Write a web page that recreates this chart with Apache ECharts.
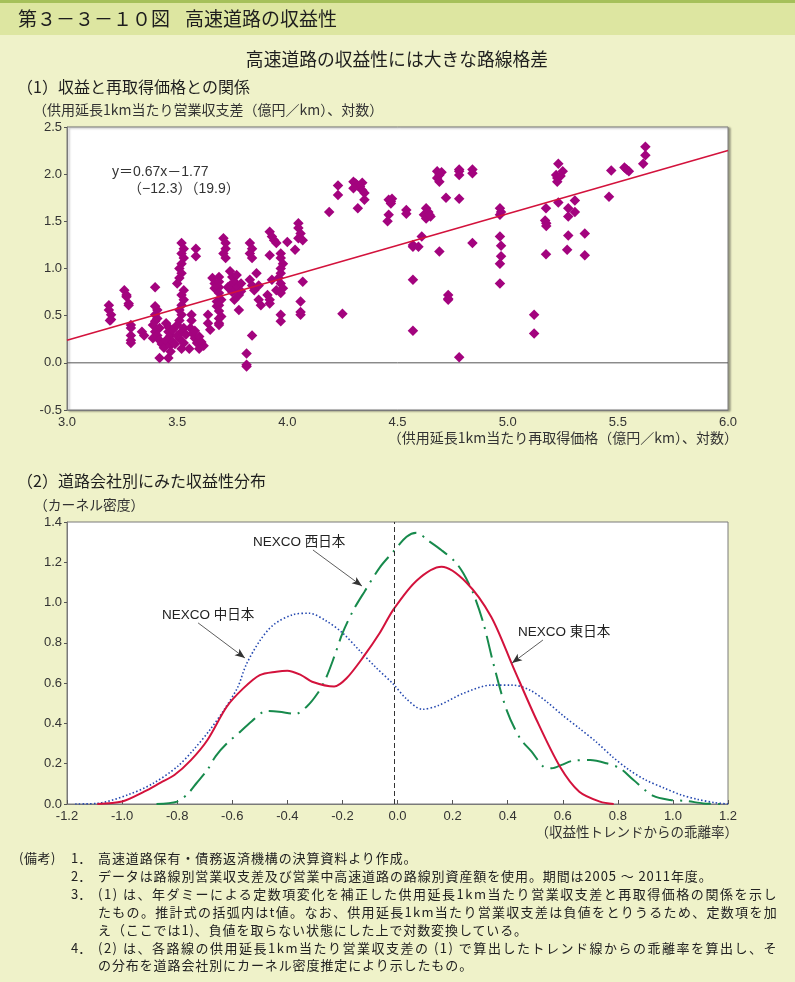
<!DOCTYPE html>
<html><head><meta charset="utf-8">
<script src="https://cdn.jsdelivr.net/npm/echarts@6/dist/echarts.min.js"></script>
<style>
html,body{margin:0;padding:0;background:#eff2c9}
#wrap{position:relative;width:795px;height:982px}
#c{width:795px;height:982px}
.note{position:absolute;white-space:nowrap;font-family:"Noto Sans CJK JP",sans-serif;font-size:13px;color:#222;line-height:16px;height:16px}
</style>
</head><body><div id="wrap"><div id="c"></div><div id="notes"></div></div>
<script>
// ---- (1) scatter: revenue vs reacquisition price (log) ----
const scatterX = [
3.19,3.19,3.20,3.20,3.195,
3.26,3.27,3.27,3.28,3.28,
3.29,3.29,3.29,3.29,3.29,
3.34,3.35,
3.40,3.40,3.41,3.40,3.41,3.40,3.39,3.42,3.40,3.41,3.39,3.42,3.43,3.42,3.44,
3.45,3.46,3.46,3.47,3.45,3.47,3.47,3.46,3.48,3.48,
3.52,3.53,3.52,3.53,3.52,3.51,3.52,3.51,3.50,3.53,3.52,3.53,3.52,3.51,3.52,3.51,3.50,3.53,3.52,3.51,3.53,3.52,3.50,3.49,3.54,
3.585,3.585,3.565,3.565,3.56,3.57,3.58,3.59,3.60,3.555,3.58,3.60,3.61,3.62,
3.64,3.64,3.66,3.67,3.67,3.68,3.68,3.69,3.65,3.69,3.69,3.69,3.69,3.70,3.69,3.69,3.70,3.69,3.69,
3.71,3.72,3.72,3.71,3.72,3.74,3.75,3.76,3.74,3.77,3.75,3.78,3.76,3.79,3.78,3.73,3.77,3.79,
3.83,3.84,3.83,3.84,3.83,3.84,3.85,3.86,3.87,3.87,3.88,3.84,3.815,3.815,3.815,
3.92,3.93,3.94,3.95,3.92,3.91,3.92,3.92,3.93,3.97,3.97,3.98,3.97,3.97,3.96,3.97,3.98,3.97,3.97,3.97,3.95,
4.00,4.035,4.05,4.05,4.06,4.05,4.07,4.07,4.06,4.06,4.06,
4.19,4.23,4.23,4.25,4.30,4.31,4.32,4.33,4.30,4.34,4.35,4.35,4.32,4.34,
4.46,4.47,4.47,4.46,4.455,4.475,
4.54,4.54,4.57,4.57,4.57,4.57,4.595,4.61,4.62,4.63,4.64,4.65,4.63,4.645,
4.68,4.69,4.68,4.69,4.70,4.69,4.72,4.73,4.73,4.73,
4.78,4.78,4.78,4.78,4.78,4.84,4.84,4.84,
4.965,4.97,4.965,4.965,4.97,4.97,4.965,4.965,
5.12,5.12,5.174,5.17,5.175,5.175,5.174,
5.23,5.25,5.22,5.225,5.225,5.23,5.24,
5.275,5.275,5.275,5.27,5.305,5.305,5.35,5.35,
5.46,5.47,5.53,5.54,5.55,5.615,5.625,5.625];
const scatterY = [
0.61,0.56,0.51,0.46,0.45,
0.77,0.72,0.70,0.63,0.61,
0.40,0.37,0.29,0.24,0.21,
0.33,0.29,
0.80,0.60,0.56,0.51,0.47,0.44,0.40,0.37,0.33,0.29,0.26,0.24,0.20,0.05,0.16,
0.42,0.38,0.33,0.29,0.24,0.19,0.12,0.05,0.22,0.35,
1.27,1.21,1.16,1.11,1.05,1.00,0.95,0.90,0.84,0.77,0.72,0.67,0.61,0.56,0.51,0.45,0.40,0.37,0.33,0.26,0.21,0.15,0.29,0.20,0.30,
1.21,1.13,0.51,0.45,0.37,0.31,0.26,0.21,0.15,0.15,0.34,0.28,0.22,0.18,
0.51,0.42,0.90,0.84,0.79,0.65,0.60,0.40,0.35,0.91,0.86,0.80,0.74,0.67,0.61,0.55,0.49,0.47,0.42,
1.32,1.27,1.21,1.16,1.11,0.97,0.91,0.86,0.82,0.79,0.75,0.72,0.67,0.84,0.56,0.80,0.93,0.76,
1.27,1.21,1.16,1.11,0.88,0.82,0.77,0.95,0.82,0.67,0.61,0.29,0.10,-0.02,-0.04,
1.39,1.34,1.30,1.27,1.14,0.72,0.67,0.63,0.88,1.16,1.11,1.05,1.00,0.95,0.90,0.84,0.79,0.74,0.51,0.44,0.77,
1.28,1.20,1.48,1.43,1.37,1.32,1.30,0.86,0.65,0.54,0.51,
1.60,1.88,1.78,0.52,1.92,1.90,1.88,1.87,1.85,1.83,1.80,1.73,1.64,1.91,
1.73,1.71,1.69,1.57,1.50,1.74,
1.62,1.58,1.25,1.23,0.88,0.34,1.23,1.34,1.57,1.64,1.60,1.55,1.53,1.57,
2.03,1.99,1.96,1.92,2.02,1.18,1.75,0.72,0.68,0.67,
2.05,2.03,1.99,1.74,0.06,2.05,2.01,1.27,
1.64,1.60,1.57,1.34,1.24,1.13,1.05,0.84,
0.51,0.31,1.64,1.51,1.48,1.45,1.15,
2.11,2.03,1.99,1.96,1.92,1.70,1.98,
1.64,1.55,1.35,1.20,1.72,1.60,1.37,1.14,
1.76,2.04,2.07,2.05,2.03,2.11,2.20,2.29];
const trendCoef = [0.67, -1.77];          // y = a x + b
const trendTValues = ['−12.3', '19.9'];
const xTicks1 = [3.0, 6.0, 0.5];          // min, max, interval
const yTicks1 = [-0.5, 2.5, 0.5];

// ---- (2) kernel density by company ----
const centralX = [-1.17,-1.09,-0.98,-0.89,-0.80,-0.74,-0.68,-0.63,-0.58,-0.55,-0.50,-0.45,-0.38,-0.32,-0.26,-0.20,-0.14,-0.08,-0.015,0.03,0.09,0.15,0.24,0.34,0.42,0.48,0.54,0.60,0.66,0.72,0.78,0.84,0.90,0.97,1.03,1.09,1.15,1.20];
const centralY = [0,0.003,0.045,0.10,0.185,0.27,0.37,0.467,0.58,0.69,0.81,0.89,0.94,0.947,0.91,0.85,0.765,0.68,0.595,0.525,0.47,0.49,0.55,0.59,0.59,0.566,0.51,0.44,0.376,0.31,0.235,0.17,0.12,0.078,0.045,0.023,0.007,0];
const eastX = [-1.09,-1.0,-0.92,-0.86,-0.81,-0.75,-0.69,-0.62,-0.56,-0.50,-0.44,-0.40,-0.35,-0.31,-0.23,-0.185,-0.124,-0.064,-0.015,0.07,0.16,0.25,0.34,0.42,0.505,0.59,0.66,0.735,0.785];
const eastY = [0,0.012,0.061,0.106,0.144,0.218,0.318,0.483,0.574,0.64,0.657,0.662,0.64,0.607,0.583,0.624,0.73,0.85,0.965,1.11,1.178,1.10,0.93,0.68,0.417,0.185,0.061,0.012,0];
const westX = [-0.875,-0.80,-0.76,-0.73,-0.69,-0.66,-0.62,-0.57,-0.53,-0.475,-0.43,-0.37,-0.33,-0.29,-0.26,-0.23,-0.20,-0.16,-0.12,-0.064,-0.015,0.033,0.069,0.112,0.16,0.209,0.239,0.275,0.312,0.348,0.396,0.445,0.487,0.53,0.56,0.596,0.638,0.699,0.759,0.808,0.856,0.929,0.99,1.05,1.11,1.18];
const westY = [0,0.012,0.053,0.103,0.17,0.238,0.30,0.36,0.41,0.462,0.458,0.447,0.483,0.55,0.624,0.73,0.847,0.963,1.054,1.175,1.253,1.327,1.347,1.307,1.26,1.203,1.145,1.046,0.897,0.698,0.467,0.326,0.26,0.185,0.177,0.194,0.215,0.218,0.202,0.177,0.12,0.04,0.02,0.015,0.003,0];
const meanLineX = [-0.015];
const xTicks2 = [-1.2, 1.2, 0.2];
const yTicks2 = [0, 1.4, 0.2];
const companyNames = ['NEXCO東日本', 'NEXCO中日本', 'NEXCO西日本'];

const notes = [
  ['(備考)', '1．', '高速道路保有・債務返済機構の決算資料より作成。'],
  ['', '2．', 'データは路線別営業収支差及び営業中高速道路の路線別資産額を使用。期間は2005 ～ 2011年度。'],
  ['', '3．', '(1) は、年ダミーによる定数項変化を補正した供用延長1km当たり営業収支差と再取得価格の関係を示し'],
  ['', '', 'たもの。推計式の括弧内はt値。なお、供用延長1km当たり営業収支差は負値をとりうるため、定数項を加'],
  ['', '', 'え（ここでは1)、負値を取らない状態にした上で対数変換している。'],
  ['', '4．', '(2) は、各路線の供用延長1km当たり営業収支差の (1) で算出したトレンド線からの乖離率を算出し、そ'],
  ['', '', 'の分布を道路会社別にカーネル密度推定により示したもの。']
];

// notes as HTML text (letter-spaced like the original)
(function () {
  const box = document.getElementById('notes');
  const mk = (txt, x, y, ls) => {
    const d = document.createElement('div');
    d.className = 'note';
    d.textContent = txt;
    d.style.left = x + 'px';
    d.style.top = (y - 8) + 'px';
    if (ls != null) d.style.letterSpacing = ls + 'px';
    box.appendChild(d);
    return d;
  };
  notes.forEach((n, i) => {
    const y = 858 + i * 17.9;
    if (n[0]) mk(n[0], 19, y, 0.5);
    if (n[1]) mk(n[1], 71, y, 0);
    const d = mk(n[2], 98, y, 0);
    if (i === 2 || i === 3 || i === 5) {
      const w = d.getBoundingClientRect().width;
      const nch = [...n[2]].length;
      d.style.letterSpacing = ((680 - w) / nch) + 'px';
    } else {
      d.style.letterSpacing = '0.9px';
    }
  });
})();

const FONT = '"Liberation Sans", "Noto Sans CJK JP", sans-serif';
const JP = '"Noto Sans CJK JP", sans-serif';
const chart = echarts.init(document.getElementById('c'), null, {renderer: 'canvas'});

const zip = (xs, ys) => xs.map((x, i) => [x, ys[i]]);
const trendData = [xTicks1[0], xTicks1[1]].map(x => [x, trendCoef[0] * x + trendCoef[1]]);
const spaced = s => s.replace('NEXCO', 'NEXCO ');

const graphics = [
  {type: 'rect', shape: {x: 0, y: 0, width: 795, height: 35}, style: {fill: '#dde6a1'}, z: -10, silent: true},
  {type: 'rect', shape: {x: 0, y: 0, width: 795, height: 3}, style: {fill: '#a5c05a'}, z: -9, silent: true},
  {type: 'text', x: 18, y: 19, style: {text: '第３－３－１０図', font: '19px ' + JP, fill: '#1e1e1e', textVerticalAlign: 'middle'}},
  {type: 'text', x: 185, y: 19, style: {text: '高速道路の収益性', font: '19px ' + JP, fill: '#1e1e1e', textVerticalAlign: 'middle'}},
  {type: 'text', x: 397, y: 59, style: {text: '高速道路の収益性には大きな路線格差', font: '17.8px ' + JP, fill: '#1e1e1e', textAlign: 'center', textVerticalAlign: 'middle'}},
  {type: 'text', x: 17, y: 87, style: {text: '（1）収益と再取得価格との関係', font: '16px ' + JP, fill: '#1e1e1e', textVerticalAlign: 'middle'}},
  {type: 'text', x: 33, y: 110, style: {text: '（供用延長1km当たり営業収支差（億円／km）、対数）', font: '14px ' + JP, fill: '#333', textVerticalAlign: 'middle'}},
  {type: 'text', x: 738, y: 438, style: {text: '（供用延長1km当たり再取得価格（億円／km）、対数）', font: '14px ' + JP, fill: '#333', textAlign: 'right', textVerticalAlign: 'middle'}},
  {type: 'text', x: 112, y: 172, style: {text: 'y＝' + trendCoef[0] + 'x－' + Math.abs(trendCoef[1]), font: '14px ' + FONT, fill: '#333', textVerticalAlign: 'middle'}},
  {type: 'text', x: 128, y: 189, style: {text: '（' + trendTValues[0] + '）（' + trendTValues[1] + '）', font: '14px ' + FONT, fill: '#333', textVerticalAlign: 'middle'}},
  {type: 'text', x: 17, y: 481, style: {text: '（2）道路会社別にみた収益性分布', font: '16px ' + JP, fill: '#1e1e1e', textVerticalAlign: 'middle'}},
  {type: 'text', x: 34, y: 505, style: {text: '（カーネル密度）', font: '13.8px ' + JP, fill: '#333', textVerticalAlign: 'middle'}},
  {type: 'text', x: 738, y: 832, style: {text: '（収益性トレンドからの乖離率）', font: '13.5px ' + JP, fill: '#333', textAlign: 'right', textVerticalAlign: 'middle'}},
  {type: 'text', x: 162, y: 615, style: {text: spaced(companyNames[1]), font: '13.5px ' + FONT, fill: '#222', textVerticalAlign: 'middle'}},
  {type: 'text', x: 253, y: 542, style: {text: spaced(companyNames[2]), font: '13.5px ' + FONT, fill: '#222', textVerticalAlign: 'middle'}},
  {type: 'text', x: 518, y: 632, style: {text: spaced(companyNames[0]), font: '13.5px ' + FONT, fill: '#222', textVerticalAlign: 'middle'}}
];

const axisLbl = {color: '#333', fontSize: 13, fontFamily: FONT, formatter: v => Number(v).toFixed(1)};
const arrowLine = (a, b) => [{coord: a, symbol: 'none'}, {coord: b, symbol: 'arrow', symbolSize: [6, 10]}];

chart.setOption({
  backgroundColor: '#eff2c9',
  animation: false,
  graphic: graphics,
  grid: [
    {left: 67, top: 127, width: 661, height: 283, show: true, backgroundColor: '#fff', borderColor: '#7a7a7a', borderWidth: 1,
     shadowColor: 'rgba(0,0,0,0.35)', shadowBlur: 2, shadowOffsetX: 2, shadowOffsetY: 1},
    {left: 67, top: 522, width: 661, height: 282, show: true, backgroundColor: '#fff', borderColor: '#7a7a7a', borderWidth: 1}
  ],
  xAxis: [
    {gridIndex: 0, type: 'value', min: xTicks1[0], max: xTicks1[1], interval: xTicks1[2],
     axisLine: {onZero: false, lineStyle: {color: '#7a7a7a'}}, axisTick: {show: false}, splitLine: {show: false},
     axisLabel: Object.assign({margin: 6}, axisLbl)},
    {gridIndex: 1, type: 'value', min: xTicks2[0], max: xTicks2[1], interval: xTicks2[2],
     axisLine: {onZero: false, lineStyle: {color: '#7a7a7a'}}, axisTick: {inside: true, length: 4, lineStyle: {color: '#555'}}, splitLine: {show: false},
     axisLabel: Object.assign({margin: 6}, axisLbl)}
  ],
  yAxis: [
    {gridIndex: 0, type: 'value', min: yTicks1[0], max: yTicks1[1], interval: yTicks1[2],
     axisLine: {show: true, onZero: false, lineStyle: {color: '#7a7a7a'}}, axisTick: {show: true, length: 3, lineStyle: {color: '#555'}}, splitLine: {show: false},
     axisLabel: Object.assign({margin: 5}, axisLbl)},
    {gridIndex: 1, type: 'value', min: yTicks2[0], max: yTicks2[1], interval: yTicks2[2],
     axisLine: {show: true, onZero: false, lineStyle: {color: '#7a7a7a'}}, axisTick: {show: true, length: 3, lineStyle: {color: '#555'}}, splitLine: {show: false},
     axisLabel: Object.assign({margin: 5}, axisLbl)}
  ],
  series: [
    {type: 'line', xAxisIndex: 0, yAxisIndex: 0, data: [[xTicks1[0], 0], [xTicks1[1], 0]], symbol: 'none',
     lineStyle: {color: '#555', width: 1}, silent: true, z: 1},
    {type: 'scatter', xAxisIndex: 0, yAxisIndex: 0, data: zip(scatterX, scatterY), symbol: 'diamond', symbolSize: 10.5,
     itemStyle: {color: '#a3037e', opacity: 1}, z: 2},
    {type: 'line', xAxisIndex: 0, yAxisIndex: 0, data: trendData, symbol: 'none',
     lineStyle: {color: '#d3123c', width: 1.6}, z: 3},
    {name: companyNames[1], type: 'line', xAxisIndex: 1, yAxisIndex: 1, data: zip(centralX, centralY), symbol: 'none', smooth: 0.3,
     lineStyle: {color: '#2448b0', width: 1.6, type: [1.5, 2.2]}, z: 3,
     markLine: {silent: true, symbol: ['none', 'none'], label: {show: false},
       lineStyle: {color: '#333', width: 0.8, type: 'solid'},
       data: [
         {xAxis: meanLineX[0], lineStyle: {color: '#333', type: [5, 3], width: 1}},
         arrowLine([-0.724, 0.899], [-0.554, 0.725]),
         arrowLine([-0.307, 1.261], [-0.129, 1.082]),
         arrowLine([0.528, 0.814], [0.416, 0.70])
       ]}},
    {name: companyNames[0], type: 'line', xAxisIndex: 1, yAxisIndex: 1, data: zip(eastX, eastY), symbol: 'none', smooth: 0.3,
     lineStyle: {color: '#d3123c', width: 2}, z: 4},
    {name: companyNames[2], type: 'line', xAxisIndex: 1, yAxisIndex: 1, data: zip(westX, westY), symbol: 'none', smooth: 0.3,
     lineStyle: {color: '#178a4c', width: 2, type: [22, 7, 2, 7]}, z: 3}
  ]
});
</script></body></html>
